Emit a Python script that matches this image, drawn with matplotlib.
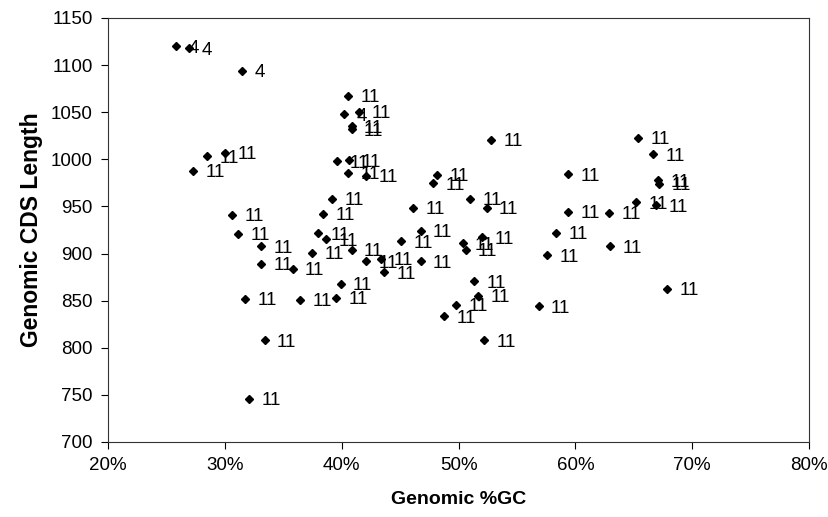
import matplotlib
matplotlib.use("Agg")
import matplotlib.pyplot as plt
from matplotlib.ticker import PercentFormatter

plt.rcParams['font.family'] = ['Liberation Sans', 'DejaVu Sans']

# Genomic %GC, genomic CDS length, point label
gc = [25.8, 26.9, 31.5, 40.2,
      28.45, 30.05, 27.25, 30.6, 39.15, 38.4, 31.15, 38.0, 38.65, 33.1,
      40.85, 37.5, 42.05, 43.4, 43.65, 33.1, 35.8, 39.9, 39.5, 31.7,
      36.4, 33.4, 32.05, 40.55, 41.45, 40.85, 40.85, 52.8, 39.6, 40.65,
      40.55, 42.1, 48.2, 47.85, 46.1, 51.0, 52.4, 59.4, 59.35, 58.35,
      57.6, 46.75, 45.05, 46.75, 50.35, 50.6, 52.05, 51.35, 51.65, 49.8,
      48.8, 56.85, 52.2, 65.4, 66.65, 67.1, 67.2, 65.2, 66.9, 62.9,
      62.95, 67.85]
cds = [1120, 1118, 1094, 1048,
       1003, 1007, 988, 941, 958, 942, 921, 921.5, 915, 908,
       904, 901, 892, 894.5, 880, 889, 883.6, 868, 853, 852,
       851, 808, 746, 1067.5, 1050.5, 1035, 1032, 1021, 998, 999,
       985.5, 982.6, 983.4, 974.6, 948.6, 958, 948.6, 984.4, 944.4, 922,
       898, 924, 913, 892, 910.7, 903.8, 917.2, 870.8, 855, 845.7,
       833.7, 844.3, 808.2, 1023, 1005.6, 978, 974, 954.4, 951.5, 943.3,
       908, 862.4]
labels = ['4'] * 4 + ['11'] * (len(gc) - 4)

x_ticks = [20, 30, 40, 50, 60, 70, 80]
y_ticks = list(range(700, 1151, 50))

fig = plt.figure(figsize=(8.29, 5.17), dpi=100)
ax = fig.add_axes([0.1303, 0.1451, 0.8456, 0.8201])

x = [v / 100 for v in gc]
ax.plot(x, cds, linestyle='none', marker='D', markersize=4.2,
        color='black', clip_on=False)
for xi, yi, lab in zip(x, cds, labels):
    ax.annotate(lab, (xi, yi), xytext=(9, 0), textcoords='offset points',
                va='center_baseline', ha='left', fontsize=13.5)

ax.set_xlim(0.2, 0.8)
ax.set_ylim(700, 1150)
ax.set_xticks([t / 100 for t in x_ticks])
ax.set_yticks(y_ticks)
ax.xaxis.set_major_formatter(PercentFormatter(1.0, decimals=0))
ax.tick_params(direction='out', length=5, width=0.8, labelsize=13.5,
               top=False, right=False, pad=6)

for s in ax.spines.values():
    s.set_linewidth(0.8)
    s.set_color('#333333')

ax.set_xlabel('Genomic %GC', fontsize=14, fontweight='bold', labelpad=12)
ax.set_ylabel('Genomic CDS Length', fontsize=16.5, fontweight='bold',
              labelpad=6)

fig.savefig('out.png', dpi=100)
